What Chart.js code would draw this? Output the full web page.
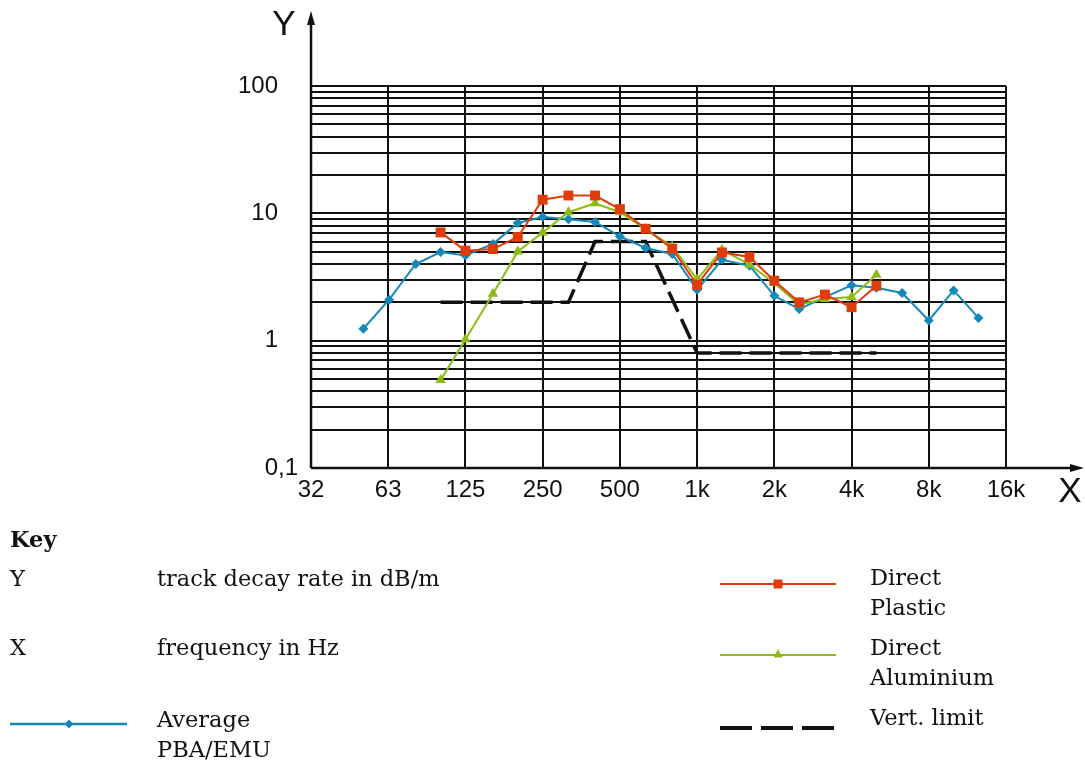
<!DOCTYPE html>
<html>
<head>
<meta charset="utf-8">
<script src="https://cdn.jsdelivr.net/npm/chart.js@4"></script>
<style>
  html, body { margin: 0; padding: 0; background: #fff; }
  body { width: 1085px; height: 760px; position: relative; overflow: hidden; }
  #chartBox { position: absolute; left: 0; top: 0; width: 1085px; height: 520px; }
  #key { position: absolute; left: 0; top: 0; width: 1085px; height: 760px; pointer-events: none; }
  .k { position: absolute; font-family: "DejaVu Serif", serif; font-size: 22.5px; line-height: 30px; color: #111; white-space: nowrap; }
  .b { font-weight: bold; }
</style>
</head>
<body>
<div id="chartBox"><canvas id="decayChart"></canvas></div>

<svg id="key" width="1085" height="760">
  <!-- blue: average PBA/EMU -->
  <line x1="10" y1="724" x2="127" y2="724" stroke="#1489b8" stroke-width="2.5"/>
  <polygon points="69,719.5 73.5,724 69,728.5 64.5,724" fill="#1489b8"/>
  <!-- orange: direct plastic -->
  <line x1="720" y1="584" x2="836" y2="584" stroke="#e03c0a" stroke-width="2"/>
  <rect x="773.5" y="579.5" width="9" height="9" fill="#e03c0a"/>
  <!-- green: direct aluminium -->
  <line x1="720" y1="655" x2="836" y2="655" stroke="#8cbc14" stroke-width="2"/>
  <polygon points="778,649 782.5,657.5 773.5,657.5" fill="#8cbc14"/>
  <!-- black dashes: vertical limit -->
  <line x1="720" y1="728" x2="836" y2="728" stroke="#111" stroke-width="4" stroke-dasharray="32 9"/>
</svg>

<div class="k b" style="left:10px; top:524px;">Key</div>
<div class="k" style="left:10px; top:563px;">Y</div>
<div class="k" style="left:157px; top:563px;">track decay rate in dB/m</div>
<div class="k" style="left:10px; top:632px;">X</div>
<div class="k" style="left:157px; top:632px;">frequency in Hz</div>
<div class="k" style="left:157px; top:704px;">Average<br>PBA/EMU</div>
<div class="k" style="left:870px; top:562px;">Direct<br>Plastic</div>
<div class="k" style="left:870px; top:632px;">Direct<br>Aluminium</div>
<div class="k" style="left:870px; top:702px;">Vert. limit</div>

<script>
// third-octave band centre frequencies (Hz)
const freqAverage = [50, 63, 80, 100, 125, 160, 200, 250, 315, 400, 500, 630, 800,
  1000, 1250, 1600, 2000, 2500, 3150, 4000, 5000, 6300, 8000, 10000, 12500];
const freqDirect = [100, 125, 160, 200, 250, 315, 400, 500, 630, 800,
  1000, 1250, 1600, 2000, 2500, 3150, 4000, 5000];
const freqLimit = [100, 315, 400, 630, 1000, 5000];

// track decay rate, dB/m
const averagePbaEmu = [1.24, 2.1, 4.0, 4.97, 4.67, 5.74, 8.4, 9.35, 9.0, 8.55, 6.59, 5.35, 4.8,
  2.51, 4.32, 3.88, 2.25, 1.77, 2.2, 2.72, 2.6, 2.37, 1.44, 2.48, 1.51];
const directPlastic = [7.08, 5.09, 5.24, 6.52, 12.8, 13.8, 13.8, 10.8, 7.57, 5.27,
  2.75, 4.93, 4.54, 2.96, 2.0, 2.3, 1.83, 2.7];
const directAluminium = [0.49, 1.02, 2.34, 5.02, 7.08, 10.2, 12.0, 10.2, 7.53, 5.5,
  3.03, 5.18, 3.95, 2.84, 1.92, 2.12, 2.2, 3.3];
const vertLimit = [2, 2, 6, 6, 0.8, 0.8];

// octave grid and its labels
const xTicks = [31.25, 62.5, 125, 250, 500, 1000, 2000, 4000, 8000, 16000];
const xTickLabels = ['32', '63', '125', '250', '500', '1k', '2k', '4k', '8k', '16k'];
const yLabelled = [0.1, 1, 10, 100];
const yTickLabels = ['0,1', '1', '10', '100'];

// 1..9 in every decade between 0.1 and 100
const yGrid = [];
for (const d of [0.1, 1, 10]) {
  for (let m = 1; m < 10; m++) yGrid.push(+(m * d).toPrecision(3));
}
yGrid.push(100);

const toPoints = (xs, ys) => xs.map((x, i) => ({ x: x, y: ys[i] }));

const ink = '#111';
const tickFont = { family: 'Liberation Sans, Arial, sans-serif', size: 24 };

// axis lines with arrow heads plus the X / Y letters
const axisArrows = {
  id: 'axisArrows',
  afterDraw(chart) {
    const ctx = chart.ctx;
    const a = chart.chartArea;
    ctx.save();
    ctx.strokeStyle = ink;
    ctx.fillStyle = ink;
    ctx.lineWidth = 2.5;
    ctx.beginPath();
    ctx.moveTo(a.left, a.bottom);
    ctx.lineTo(a.left, 22);
    ctx.moveTo(a.left, a.bottom);
    ctx.lineTo(1072, a.bottom);
    ctx.stroke();
    ctx.beginPath();
    ctx.moveTo(a.left, 11);
    ctx.lineTo(a.left - 4, 25);
    ctx.lineTo(a.left + 4, 25);
    ctx.closePath();
    ctx.fill();
    ctx.beginPath();
    ctx.moveTo(1084, a.bottom);
    ctx.lineTo(1070, a.bottom - 4);
    ctx.lineTo(1070, a.bottom + 4);
    ctx.closePath();
    ctx.fill();
    ctx.font = '35px Liberation Sans, Arial, sans-serif';
    ctx.textAlign = 'center';
    ctx.textBaseline = 'middle';
    ctx.fillText('Y', 284, 25);
    ctx.fillText('X', 1070, 492);
    ctx.restore();
  }
};

const ctx = document.getElementById('decayChart').getContext('2d');
const decayChart = new Chart(ctx, {
  type: 'line',
  data: {
    datasets: [{
      label: 'Direct Plastic',
      data: toPoints(freqDirect, directPlastic),
      borderColor: '#e03c0a',
      backgroundColor: '#e03c0a',
      borderWidth: 2,
      pointStyle: 'rect',
      pointRadius: 7,
      pointBorderWidth: 0
    }, {
      label: 'Direct Aluminium',
      data: toPoints(freqDirect, directAluminium),
      borderColor: '#8cbc14',
      backgroundColor: '#8cbc14',
      borderWidth: 2,
      pointStyle: 'triangle',
      pointRadius: 6,
      pointBorderWidth: 0
    }, {
      label: 'Average PBA/EMU',
      data: toPoints(freqAverage, averagePbaEmu),
      borderColor: '#1489b8',
      backgroundColor: '#1489b8',
      borderWidth: 2,
      pointStyle: 'rectRot',
      pointRadius: 5,
      pointBorderWidth: 0
    }, {
      label: 'Vert. limit',
      data: toPoints(freqLimit, vertLimit),
      borderColor: ink,
      borderWidth: 3.5,
      borderDash: [22, 8],
      pointRadius: 0
    }]
  },
  options: {
    responsive: true,
    maintainAspectRatio: false,
    animation: false,
    devicePixelRatio: 1,
    layout: { padding: { top: 86, right: 79, left: 0, bottom: 0 } },
    elements: { line: { tension: 0, fill: false } },
    scales: {
      x: {
        type: 'logarithmic',
        min: 31.25,
        max: 16000,
        border: { display: false },
        grid: { color: ink, lineWidth: 2, drawTicks: false },
        ticks: {
          autoSkip: false,
          maxRotation: 0,
          padding: 8,
          color: ink,
          font: tickFont,
          callback: (v) => {
            const i = xTicks.indexOf(v);
            return i >= 0 ? xTickLabels[i] : '';
          }
        },
        afterBuildTicks: (scale) => { scale.ticks = xTicks.map(v => ({ value: v })); },
        afterFit: (scale) => { scale.height = 52; }
      },
      y: {
        type: 'logarithmic',
        min: 0.1,
        max: 100,
        border: { display: false },
        grid: { color: ink, lineWidth: 2, drawTicks: false },
        ticks: {
          autoSkip: false,
          padding: 13,
          color: ink,
          font: tickFont,
          callback: (v) => {
            const i = yLabelled.indexOf(v);
            if (i < 0) return '';
            // whole numbers sit left of the decimal comma column
            return i === 0 ? yTickLabels[i] : yTickLabels[i] + '\u2007\u2008';
          }
        },
        afterBuildTicks: (scale) => { scale.ticks = yGrid.map(v => ({ value: v })); },
        afterFit: (scale) => { scale.width = 311; }
      }
    },
    plugins: {
      legend: { display: false },
      tooltip: { enabled: false }
    }
  },
  plugins: [axisArrows]
});
</script>
</body>
</html>
